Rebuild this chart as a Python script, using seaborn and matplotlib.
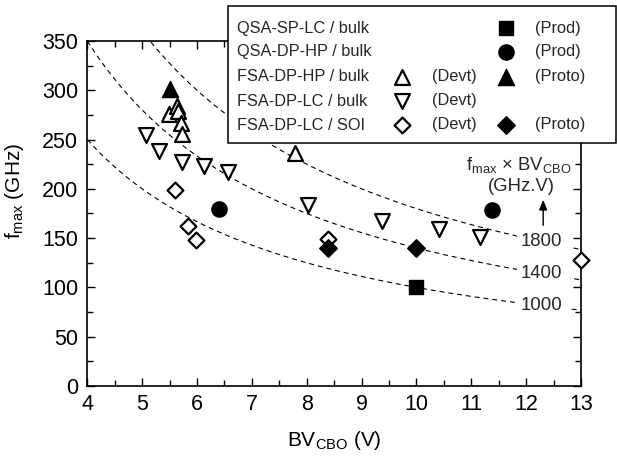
import numpy as np
import pandas as pd
import matplotlib
matplotlib.use("Agg")
import matplotlib.pyplot as plt
from matplotlib.patches import Rectangle
import seaborn as sns

# Measured devices: breakdown voltage BVCBO (V) and fmax (GHz)
qsa_sp_prod_bv = [10.0]
qsa_sp_prod_fmax = [100]
qsa_dp_prod_bv = [6.4, 11.38]
qsa_dp_prod_fmax = [180, 179]
fsa_hp_devt_bv = [5.49, 5.64, 5.66, 5.71, 5.72, 7.79]
fsa_hp_devt_fmax = [276, 284, 279, 267, 256, 236]
fsa_hp_proto_bv = [5.5]
fsa_hp_proto_fmax = [301]
fsa_lc_devt_bv = [5.07, 5.3, 5.73, 6.12, 6.57, 8.03, 9.37, 10.42, 11.15]
fsa_lc_devt_fmax = [255, 238, 227, 223, 217, 184, 167, 159, 151]
soi_devt_bv = [5.6, 5.83, 5.99, 8.39, 13.0]
soi_devt_fmax = [199, 162, 148, 149, 128]
soi_proto_bv = [8.39, 9.99]
soi_proto_fmax = [140, 140]

# constant fmax x BVCBO products (GHz.V)
products = [1800, 1400, 1000]

x_ticks = [4, 5, 6, 7, 8, 9, 10, 11, 12, 13]
y_ticks = [0, 50, 100, 150, 200, 250, 300, 350]

sns.set_theme(style="ticks")
plt.rcParams["font.family"] = ["Liberation Sans", "DejaVu Sans"]
plt.rcParams["mathtext.fontset"] = "custom"
plt.rcParams["mathtext.rm"] = "Liberation Sans"
plt.rcParams["mathtext.it"] = "Liberation Sans:italic"
plt.rcParams["mathtext.default"] = "regular"

frames = []
def add(name, bv, fm):
    frames.append(pd.DataFrame({"group": name, "bv": bv, "fmax": fm}))

add("qsa_sp_prod", qsa_sp_prod_bv, qsa_sp_prod_fmax)
add("qsa_dp_prod", qsa_dp_prod_bv, qsa_dp_prod_fmax)
add("fsa_hp_devt", fsa_hp_devt_bv, fsa_hp_devt_fmax)
add("fsa_hp_proto", fsa_hp_proto_bv, fsa_hp_proto_fmax)
add("fsa_lc_devt", fsa_lc_devt_bv, fsa_lc_devt_fmax)
add("soi_devt", soi_devt_bv, soi_devt_fmax)
add("soi_proto", soi_proto_bv, soi_proto_fmax)
df = pd.concat(frames, ignore_index=True)

# marker, fill colour, size
styles = {
    "qsa_sp_prod": ("s", "black", 110),
    "qsa_dp_prod": ("o", "black", 120),
    "fsa_hp_devt": ("^", "white", 115),
    "fsa_hp_proto": ("^", "black", 135),
    "fsa_lc_devt": ("v", "white", 115),
    "soi_devt": ("D", "white", 65),
    "soi_proto": ("D", "black", 80),
}

fig = plt.figure(figsize=(6.17, 4.62), dpi=100)
ax = fig.add_axes([0.1415, 0.1645, 0.8002, 0.7468])

# dashed iso-product hyperbolas
xs = np.linspace(4, 13, 400)
for c in products:
    ax.plot(xs, c / xs, ls=(0, (4.5, 3.5)), color="black", lw=0.8, zorder=1)

# white patch behind the curve labels
ax.add_patch(Rectangle((11.83, 60), 0.96, 103, facecolor="white",
                       edgecolor="none", zorder=1.5))
for c in products:
    ax.text(12.28, c / 12.28, f"{c}", ha="center", va="center",
            fontsize=13.4, zorder=2)

ax.annotate("", xy=(12.31, 189), xytext=(12.31, 163),
            arrowprops=dict(arrowstyle="-|>,head_length=0.5,head_width=0.2",
                            color="black", lw=1.0, shrinkA=0, shrinkB=0))
ax.text(11.86, 224, r"f$_{\rm max}$ $\times$ BV$_{\rm CBO}$", ha="center",
        va="center", fontsize=13.3)
ax.text(11.91, 202, "(GHz.V)", ha="center", va="center", fontsize=13.3)

for name, (m, fc, s) in styles.items():
    sub = df[df["group"] == name]
    lw = 1.6 if fc == "white" else 1.0
    sns.scatterplot(data=sub, x="bv", y="fmax", marker=m, s=s, color=fc,
                    edgecolor="black", linewidth=lw, ax=ax, clip_on=False,
                    zorder=4, legend=False)

ax.set_xlim(4, 13)
ax.set_ylim(0, 350)
ax.set_xticks(x_ticks)
ax.set_yticks(y_ticks)
ax.set_xticks(np.arange(4, 13.01, 0.5), minor=True)
ax.set_yticks(np.arange(0, 350.1, 25), minor=True)
ax.tick_params(which="both", direction="in", top=True, right=True,
               color="black", width=1.0)
ax.tick_params(which="major", length=6, labelsize=15.5, labelcolor="black")
ax.tick_params(which="minor", length=4)
ax.tick_params(axis="y", which="major", pad=6.5)
ax.tick_params(axis="x", which="major", pad=6)
for sp in ax.spines.values():
    sp.set_linewidth(1.2)
    sp.set_color("black")
    sp.set_visible(True)

ax.set_xlabel(r"BV$_{\rm CBO}$ (V)", fontsize=15, color="black")
ax.set_ylabel(r"f$_{\rm max}$ (GHz)", fontsize=15, color="black")
ax.xaxis.set_label_coords(0.5, -0.125)
ax.yaxis.set_label_coords(-0.124, 0.565)

# legend box drawn in figure coordinates
box = Rectangle((0.3695, 0.6905), 0.629, 0.2965, transform=fig.transFigure,
                facecolor="white", edgecolor="black", lw=1.1, zorder=5,
                clip_on=False)
ax.add_patch(box)

rows = [
    ("QSA-SP-LC / bulk", None, None, ("s", 110), "(Prod)"),
    ("QSA-DP-HP / bulk", None, None, ("o", 120), "(Prod)"),
    ("FSA-DP-HP / bulk", ("^", 115), "(Devt)", ("^", 135), "(Proto)"),
    ("FSA-DP-LC / bulk", ("v", 115), "(Devt)", None, None),
    ("FSA-DP-LC / SOI", ("D", 65), "(Devt)", ("D", 80), "(Proto)"),
]
row_px = [28.3, 51.7, 76.7, 101, 125]
leg_fs = 11.8
for (lab, om, otxt, fm, ftxt), py in zip(rows, row_px):
    yf = 1 - py / 462
    fig.text(236.7 / 617, yf, lab, ha="left", va="center", fontsize=leg_fs,
             zorder=7)
    if om is not None:
        ax.scatter([401.7 / 617], [yf], marker=om[0], s=om[1], color="white",
                   edgecolor="black", linewidth=1.6, transform=fig.transFigure,
                   clip_on=False, zorder=6)
        fig.text(431.7 / 617, yf, otxt, ha="left", va="center",
                 fontsize=leg_fs, zorder=7)
    if fm is not None:
        ax.scatter([506 / 617], [yf], marker=fm[0], s=fm[1], color="black",
                   edgecolor="black", linewidth=1.0, transform=fig.transFigure,
                   clip_on=False, zorder=6)
        fig.text(535 / 617, yf, ftxt, ha="left", va="center", fontsize=leg_fs,
                 zorder=7)

fig.savefig("out.png", dpi=100)
